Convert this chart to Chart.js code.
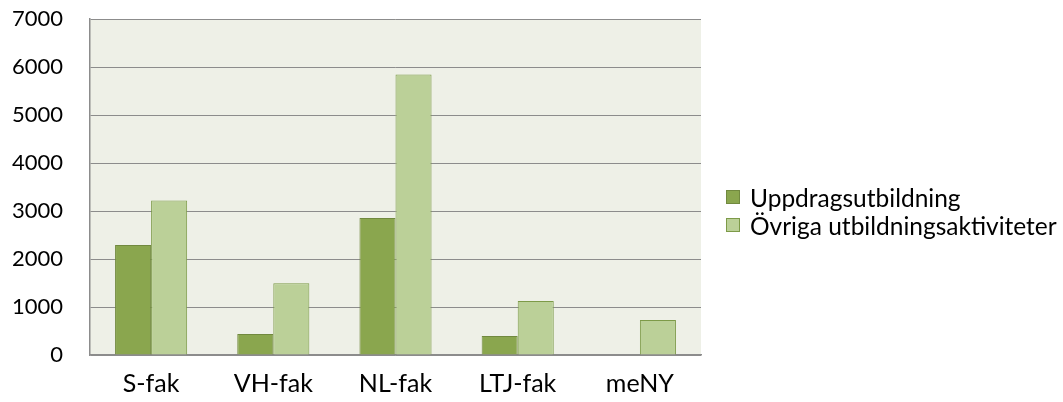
<!DOCTYPE html>
<html>
<head>
<meta charset="utf-8">
<script src="https://cdn.jsdelivr.net/npm/chart.js@4"></script>
<style>
  html, body { margin: 0; padding: 0; background: #fff; }
  #wrap { position: relative; width: 1063px; height: 402px; }
  #legend { position: absolute; left: 726px; top: 183px; font-family: Lato, "Open Sans", sans-serif; font-size: 24.5px; color: #000; }
  .item { display: flex; align-items: center; height: 28px; white-space: nowrap; }
  .box { width: 14px; height: 14px; border: 1px solid #71893F; margin-right: 10px; box-sizing: border-box; }
</style>
</head>
<body>
<div id="wrap">
  <canvas id="c" width="1063" height="402"></canvas>
  <div id="legend"></div>
</div>
<script>
const categories = ["S-fak", "VH-fak", "NL-fak", "LTJ-fak", "meNY"];
const seriesNames = ["Uppdragsutbildning", "Övriga utbildningsaktiviteter"];
const uppdrag = [2290, 437, 2855, 396, 0];
const ovriga = [3218, 1494, 5842, 1125, 729];
const yTicks = [0, 1000, 2000, 3000, 4000, 5000, 6000, 7000];

const fills = ["#8AA64E", "#BBD098"];
const borders = ["#71893F", "#7D9A48"];

const bgPlugin = {
  id: "plotBg",
  beforeDraw(chart) {
    const a = chart.chartArea, ctx = chart.ctx;
    ctx.save();
    ctx.fillStyle = "#EEF0E7";
    ctx.fillRect(a.left, a.top, a.right - a.left, a.bottom - a.top);
    ctx.restore();
  }
};

const fontY = { family: "Lato, 'Open Sans', sans-serif", size: 22 };
const fontX = { family: "Lato, 'Open Sans', sans-serif", size: 25 };

new Chart(document.getElementById("c"), {
  type: "bar",
  data: {
    labels: categories,
    datasets: [
      { label: seriesNames[0], data: uppdrag, backgroundColor: fills[0], borderColor: borders[0], borderWidth: 1, categoryPercentage: 0.59, barPercentage: 1.0 },
      { label: seriesNames[1], data: ovriga, backgroundColor: fills[1], borderColor: borders[1], borderWidth: 1, categoryPercentage: 0.59, barPercentage: 1.0 }
    ]
  },
  options: {
    responsive: false,
    animation: false,
    layout: { padding: { left: 0, right: 362, top: 19, bottom: 0 } },
    plugins: { legend: { display: false }, tooltip: { enabled: false } },
    scales: {
      x: {
        grid: { display: false, drawTicks: false },
        border: { display: true, color: "#8C8C8C", width: 1.5 },
        ticks: { font: fontX, color: "#000", padding: 14 },
        afterFit(s) { s.height = 47; s.paddingLeft = 0; s.paddingRight = 0; }
      },
      y: {
        min: 0, max: 7000,
        afterBuildTicks(s) { s.ticks = yTicks.map(v => ({ value: v })); },
        grid: { color: "#8C8C8C", lineWidth: 1, drawTicks: false },
        border: { display: true, color: "#8C8C8C", width: 1.5 },
        ticks: { font: fontY, color: "#000", padding: 27, callback: v => String(v) },
        afterFit(s) { s.width = 90; s.paddingTop = 0; s.paddingBottom = 0; }
      }
    }
  },
  plugins: [bgPlugin]
});

const leg = document.getElementById("legend");
seriesNames.forEach((n, i) => {
  const it = document.createElement("div");
  it.className = "item";
  const b = document.createElement("span");
  b.className = "box";
  b.style.background = fills[i];
  b.style.borderColor = borders[i];
  const t = document.createElement("span");
  t.textContent = n;
  it.appendChild(b); it.appendChild(t);
  leg.appendChild(it);
});
</script>
</body>
</html>
